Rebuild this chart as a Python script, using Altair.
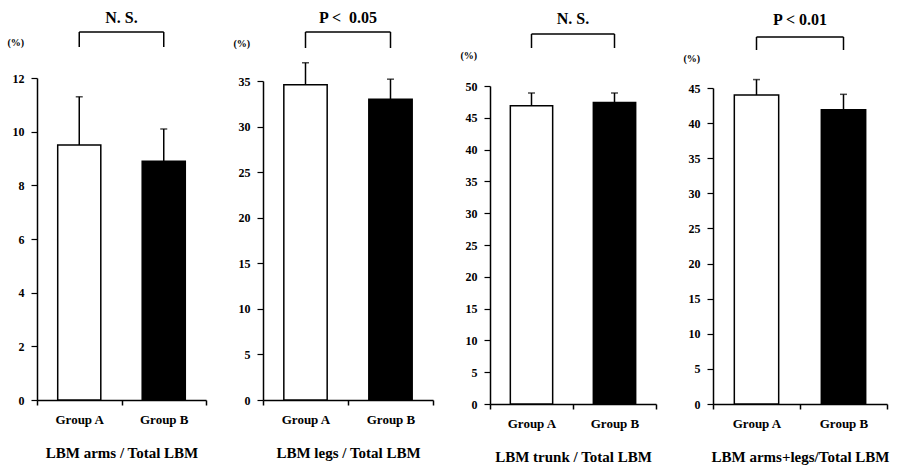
import altair as alt
import pandas as pd

groups = ["Group A", "Group B"]
titles = ["LBM arms / Total LBM", "LBM legs / Total LBM",
          "LBM trunk / Total LBM", "LBM arms+legs/Total LBM"]
means = [[9.5, 8.9], [34.6, 33.0], [46.9, 47.4], [44.0, 41.9]]
upper = [[11.3, 10.1], [37.0, 35.2], [48.9, 48.9], [46.2, 44.1]]
signif = ["N. S.", "P <\u00a0 0.05", "N. S.", "P < 0.01"]
ymax = [12, 35, 50, 45]
ystep = [2, 5, 5, 5]

# layout (pixels, relative to the top of each panel)
widths = [169, 170, 166, 174]
H = 326
zero_px = [322, 322, 326, 326]
top_px = [0, 3, 8, 10]
br_top = [-46, -46, -44, -41]
br_bot = [-31, -30, -30, -28]
txt_y = [-60, -60, -59, -58]
pct_y = [-36, -35, -23, -20]
FONT = "Liberation Serif"


def y_axis(i):
    return alt.Axis(values=list(range(0, ymax[i] + 1, ystep[i])), grid=False,
                    labelOverlap=False,
                    title="(%)", titleAngle=0, titleAlign="left",
                    titleBaseline="middle", titleX=-30, titleY=pct_y[i],
                    titleFont=FONT, titleFontSize=10, titleFontWeight="bold",
                    titleColor="black", labelFont=FONT, labelFontSize=12,
                    labelFontWeight="bold",
                    labelColor="black", labelPadding=7, domainColor="black",
                    domainWidth=1.5, tickColor="black", tickSize=6,
                    tickWidth=1.2)


panels = []
for i in range(4):
    df = pd.DataFrame({"group": groups, "mean": means[i], "upper": upper[i]})
    xscale = alt.Scale(domain=groups, paddingInner=0, paddingOuter=0)
    xaxis = alt.Axis(title=titles[i], tickBand="extent", labelAngle=0,
                     offset=zero_px[i] - H,
                     labelFont=FONT, labelFontSize=13, labelFontWeight="bold",
                     labelColor="black", labelPadding=8, titleFont=FONT,
                     titleFontSize=15, titleFontWeight="bold",
                     titleColor="black", titlePadding=19, domainColor="black",
                     domainWidth=1.5, tickColor="black", tickSize=5,
                     tickWidth=1.5)
    yscale = alt.Scale(domain=[0, ymax[i]], nice=False, zero=True,
                       range=[zero_px[i], top_px[i]])
    ax = y_axis(i)
    base = alt.Chart(df)
    bars = base.mark_bar(width=alt.RelativeBandSize(0.51), stroke="black",
                         strokeWidth=1.5).encode(
        x=alt.X("group:N", scale=xscale, axis=xaxis),
        y=alt.Y("mean:Q", scale=yscale, axis=ax),
        fill=alt.Fill("group:N", scale=alt.Scale(domain=groups, range=["white", "black"]),
                      legend=None),
    )
    err = base.mark_rule(color="black", strokeWidth=1.5).encode(
        x=alt.X("group:N", scale=xscale, axis=xaxis),
        y=alt.Y("mean:Q", scale=yscale, axis=ax), y2="upper:Q")
    cap = base.mark_tick(orient="horizontal", size=7, thickness=1.5,
                         color="black").encode(
        x=alt.X("group:N", scale=xscale, axis=xaxis),
        y=alt.Y("upper:Q", scale=yscale, axis=ax))
    bracket_h = base.mark_line(color="black", strokeWidth=1.5).encode(
        x=alt.X("group:N", scale=xscale, axis=xaxis), y=alt.value(br_top[i]))
    bracket_v = base.mark_rule(color="black", strokeWidth=1.5).encode(
        x=alt.X("group:N", scale=xscale, axis=xaxis), y=alt.value(br_top[i]),
        y2=alt.value(br_bot[i]))
    label = alt.Chart(pd.DataFrame({"t": [signif[i]]})).mark_text(
        font=FONT, fontSize=16, fontWeight="bold", color="black",
        baseline="middle", align="center"
    ).encode(text="t:N", x=alt.value(widths[i] / 2), y=alt.value(txt_y[i]))
    panel = alt.layer(bars, err, cap, bracket_h, bracket_v, label).properties(
        width=widths[i], height=H)
    panels.append(panel)

chart = alt.hconcat(*panels, spacing=57, bounds="flush").configure_view(
    stroke=None).properties(padding={"left": 7, "top": 10, "right": 5, "bottom": 2})

chart.save("out.html", embed_options={"renderer": "svg", "actions": False})
